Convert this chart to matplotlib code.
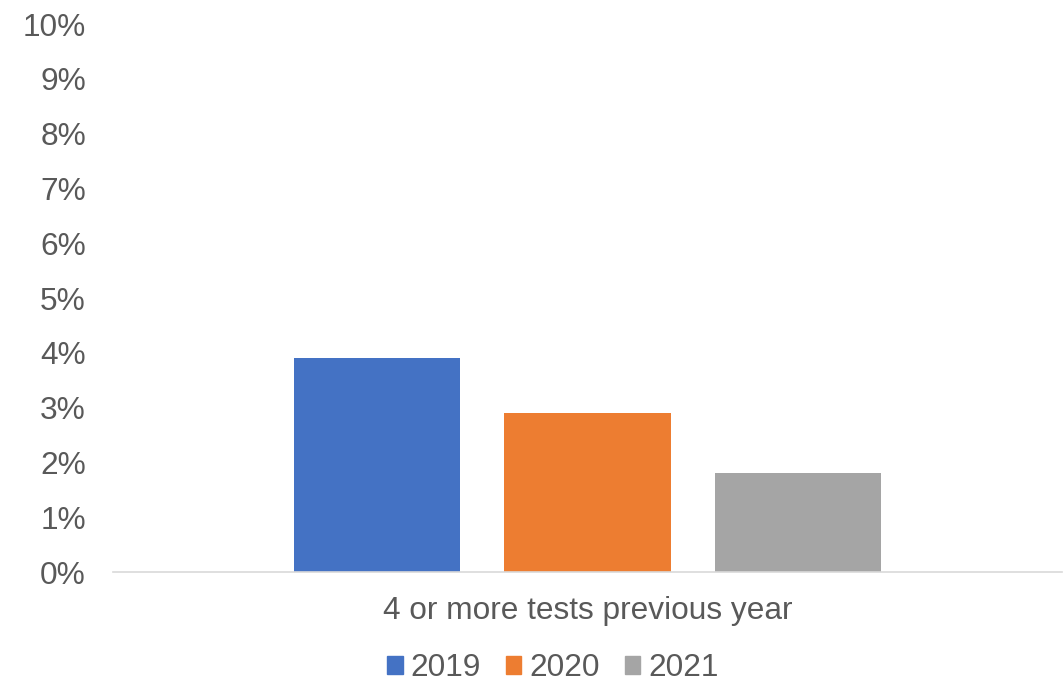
import numpy as np
import matplotlib.pyplot as plt
from matplotlib.patches import Patch

category = ['4 or more tests previous year']
years = ['2019', '2020', '2021']
values = [3.9, 2.9, 1.8]
colors = ['#4472C4', '#ED7D31', '#A5A5A5']

plt.rcParams['font.family'] = ['Liberation Sans', 'DejaVu Sans']
txt = '#595959'
fs = 22.8

fig = plt.figure(figsize=(10.64, 6.84), dpi=100)
ax = fig.add_axes([113/1064, 1 - 572/684, 949/1064, 548/684])

width = 0.175
offsets = [-0.2218, 0, 0.2218]
x = np.arange(len(category))
for yr, v, c, off in zip(years, values, colors, offsets):
    ax.bar(x + off, [v], width=width, color=c, label=yr)

ax.set_xlim(-0.5, 0.5)
ax.set_ylim(0, 10)
ax.set_yticks(range(0, 11))
ax.set_yticklabels([f'{i}%' for i in range(0, 11)])
ax.set_xticks(x)
ax.set_xticklabels(category)
ax.tick_params(axis='y', length=0, pad=19.5, labelsize=fs, labelcolor=txt)
ax.tick_params(axis='x', length=0, pad=17, labelsize=fs, labelcolor=txt)
for s in ['top', 'right', 'left']:
    ax.spines[s].set_visible(False)
ax.spines['bottom'].set_color('#d9d9d9')
ax.spines['bottom'].set_linewidth(1.2)

handles = [Patch(color=c) for c in colors]
fig.legend(handles, years, loc='center', bbox_to_anchor=(553/1064, 1 - 668/684),
           ncol=3, frameon=False, fontsize=fs, labelcolor=txt,
           handlelength=0.48, handleheight=0.48, handletextpad=0.25,
           columnspacing=0.8, borderaxespad=0, borderpad=0)

fig.savefig('out.png', dpi=100)
